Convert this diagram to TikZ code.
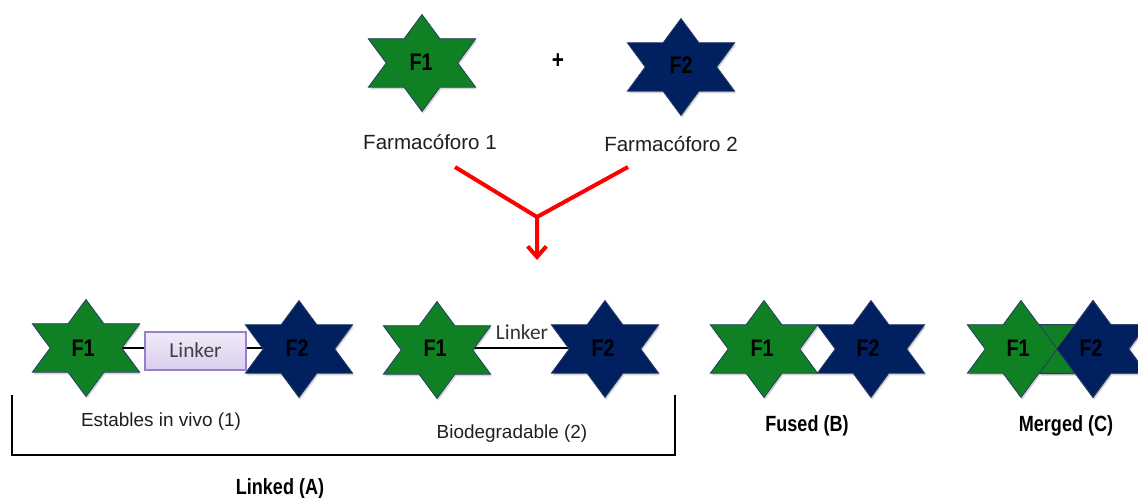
\documentclass[tikz,border=0pt]{standalone}
\usepackage{fontspec}
\setmainfont{Liberation Sans}
\newfontfamily\narrowbold[FakeStretch=0.82]{Liberation Sans}
\newfontfamily\linkerfont{Carlito}
\usetikzlibrary{arrows.meta}

\definecolor{stargreen}{RGB}{16,128,36}
\definecolor{starnavy}{RGB}{0,32,96}
\definecolor{staredge}{RGB}{40,60,100}
\definecolor{linkertop}{RGB}{240,234,248}
\definecolor{linkerbot}{RGB}{218,206,238}
\definecolor{linkeredge}{RGB}{150,128,200}
\definecolor{linkertext}{RGB}{64,64,64}
\definecolor{arrowred}{RGB}{255,0,0}

\pgfdeclarelayer{paper}
\pgfdeclarelayer{back}
\pgfsetlayers{paper,back,main}

\tikzset{
  % six-pointed star (hexagram), 107 x 97 units, with a faint shadow
  pics/hexstar/.style={code={
    \fill[black, opacity=0.16, shift={(1.2,2.2)}]
      (0,-48.5) -- (17.9,-24.25) -- (53.7,-24.25) -- (35.8,0) -- (53.7,24.25) -- (17.9,24.25)
      -- (0,48.5) -- (-17.9,24.25) -- (-53.7,24.25) -- (-35.8,0) -- (-53.7,-24.25) -- (-17.9,-24.25) -- cycle;
    \path[staroutline, fill=#1]
      (0,-48.5) -- (17.9,-24.25) -- (53.7,-24.25) -- (35.8,0) -- (53.7,24.25) -- (17.9,24.25)
      -- (0,48.5) -- (-17.9,24.25) -- (-53.7,24.25) -- (-35.8,0) -- (-53.7,-24.25) -- (-17.9,-24.25) -- cycle;
  }},
  % outline only, for the overlapping pair
  pics/hexedge/.style={code={
    \path[staroutline]
      (0,-48.5) -- (17.9,-24.25) -- (53.7,-24.25) -- (35.8,0) -- (53.7,24.25) -- (17.9,24.25)
      -- (0,48.5) -- (-17.9,24.25) -- (-53.7,24.25) -- (-35.8,0) -- (-53.7,-24.25) -- (-17.9,-24.25) -- cycle;
  }},
}

\begin{document}
\begin{tikzpicture}[x=0.75pt, y=-0.75pt,
  staroutline/.style={draw=staredge, line width=0.6pt, line join=miter},
  flabel/.style={font=\narrowbold\bfseries\fontsize{18}{20}\selectfont, text=black, inner sep=0pt},
  title/.style={font=\fontsize{15.4}{18}\selectfont, text=black!88, inner sep=0pt, anchor=base},
  caption/.style={font=\fontsize{14.2}{17}\selectfont, text=black!88, inner sep=0pt, anchor=base},
  heading/.style={font=\narrowbold\bfseries\fontsize{16.5}{19}\selectfont, text=black, inner sep=0pt, anchor=base},
  linkerlbl/.style={font=\linkerfont\fontsize{16}{18}\selectfont, text=linkertext, inner sep=0pt},
  linkerbox/.style={draw=linkeredge, line width=0.8pt, top color=linkertop, bottom color=linkerbot,
    minimum width=75.75pt, minimum height=28.5pt, inner sep=0pt},
  bond/.style={draw=black, line width=1.3pt},
  redline/.style={draw=arrowred, line width=3pt},
  bracket/.style={draw=black, line width=1.5pt, line join=miter},
]
\useasboundingbox (0,0) rectangle (1138,498);
\begin{pgfonlayer}{paper}
  \fill[white] (0,0) rectangle (1138,498);
\end{pgfonlayer}
\clip (0,0) rectangle (1138,498);

% ---------- the two pharmacophores ----------
\pic at (422,63) {hexstar=stargreen};
\pic at (681,67) {hexstar=starnavy};
\node[flabel] (tF1) at (421,62) {F1};
\node[flabel] (tF2) at (681,65) {F2};
\node[font=\narrowbold\bfseries\fontsize{19}{20}\selectfont, inner sep=0pt] (plus) at (558,61) {+};
\node[title] (farm1) at (430,150) {Farmacóforo 1};
\node[title] (farm2) at (671,152) {Farmacóforo 2};

% ---------- converging red arrow ----------
\coordinate (r1) at (455,167);
\coordinate (r2) at (628,167);
\coordinate (fork) at (537,217);
\coordinate (rtip) at (537,260);
\draw[redline] (r2) -- (fork);
\draw[redline, -{Straight Barb[length=8pt, width=14pt]}] (r1) -- (fork) -- (rtip);

% ---------- linked (A): stable linker ----------
\pic at (86,348) {hexstar=stargreen};
\pic at (299,349) {hexstar=starnavy};
\node[flabel] (aF1) at (83,348) {F1};
\node[flabel] (aF2) at (297,348) {F2};
\node[linkerbox] (lk1) at (195.5,351) {};
\node[linkerlbl, anchor=base] (lk1t) at (195.5,358) {Linker};

% ---------- linked (A): biodegradable linker ----------
\pic at (437,350) {hexstar=stargreen};
\pic at (605,349) {hexstar=starnavy};
\node[flabel] (bF1) at (435,348) {F1};
\node[flabel] (bF2) at (603,348) {F2};
\node[linkerlbl, text=black!80, anchor=base] (lk2) at (522,340) {Linker};

\begin{pgfonlayer}{back}
  \draw[bond] (aF1.center) -- (aF1.center -| lk1.west);
  \draw[bond] (lk1.east |- aF1.center) -- (aF2.center);
  \draw[bond] (bF1.center) -- (bF2.center);
\end{pgfonlayer}

% bracket grouping the linked variants
\coordinate (brL) at (12,395);
\coordinate (brR) at (675,395);
\draw[bracket] (brL) -- (12,455) -- (675,455) -- (brR);
\node[caption] (est) at (161,427) {Estables in vivo (1)};
\node[caption] (bio) at (512,439) {Biodegradable (2)};
\node[heading] (linked) at (280,494) {Linked (A)};

% ---------- fused (B) ----------
\pic at (764,349) {hexstar=stargreen};
\pic at (871,349) {hexstar=starnavy};
\node[flabel] (cF1) at (762,348) {F1};
\node[flabel] (cF2) at (868,348) {F2};
\node[heading] (fused) at (807,432) {Fused (B)};

% ---------- merged (C) ----------
\pic at (1093,349) {hexstar=starnavy};
\pic at (1021,349) {hexstar=stargreen};
\pic at (1093,349) {hexedge};
\node[flabel] (dF1) at (1018,348) {F1};
\node[flabel] (dF2) at (1091,348) {F2};
\node[heading] (merged) at (1066,432) {Merged (C)};
\end{tikzpicture}
\end{document}
